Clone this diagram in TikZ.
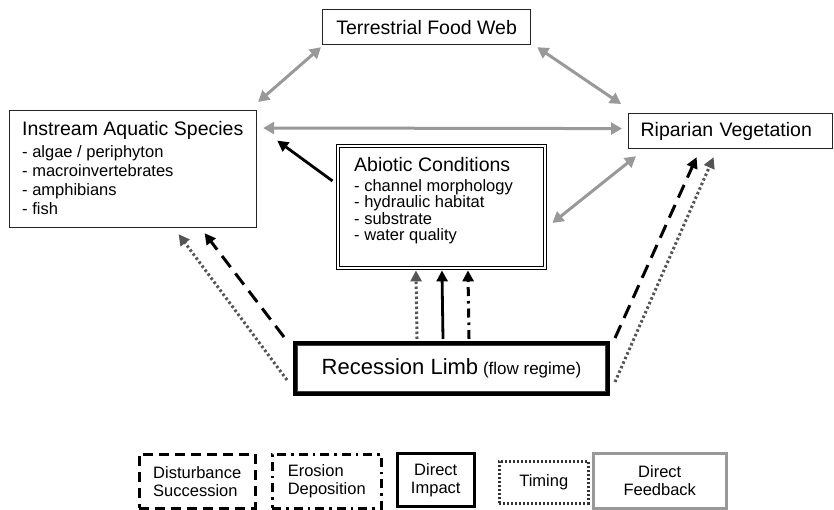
\documentclass[tikz,border=0pt]{standalone}
\usepackage{fontspec}
\setmainfont{Liberation Sans}
\usetikzlibrary{arrows.meta,calc}
\definecolor{fbgray}{HTML}{999999}
\definecolor{dotgray}{HTML}{555555}
\begin{document}
\begin{tikzpicture}[x=1pt,y=-1pt,
  box/.style={draw=black!85, line width=1.2pt, inner sep=0pt, anchor=north west},
  txt/.style={inner sep=0pt, anchor=north west, align=left},
  head/.style={font=\fontsize{19.5}{22}\selectfont},
  leg/.style={inner sep=0pt, anchor=north west, font=\fontsize{16.5}{18}\selectfont},
  tipA/.style={-{Triangle[length=11pt,width=11pt]}},
  fbarrow/.style={draw=fbgray, line width=3pt, {Triangle[length=11pt,width=12pt]}-{Triangle[length=11pt,width=12pt]}},
  impact/.style={draw=black, line width=2.8pt, tipA},
  dist/.style={draw=black, line width=3pt, dash pattern=on 14pt off 8pt, tipA},
  timing/.style={draw=dotgray, line width=3pt, dash pattern=on 2.5pt off 2.5pt, tipA},
  erosion/.style={draw=black, line width=3pt, dash pattern=on 9pt off 5pt on 2.5pt off 5pt, tipA}
]
\useasboundingbox (0,0) rectangle (834,510);

% main boxes
\node[box, head, minimum width=208pt, minimum height=35pt] (tfw) at (322,9) {Terrestrial Food Web};
\node[box, head, minimum width=204pt, minimum height=35pt, inner xsep=12pt, text width=180pt, align=left] (rip) at (628,113) {Riparian Vegetation};
\node[box, minimum width=247pt, minimum height=117pt] (isp) at (9,110) {};
\node[txt, font=\fontsize{16.5}{19}\selectfont] (ispt) at (22,121)
  {{\fontsize{19.5}{22}\selectfont Instream Aquatic Species}\\[3pt]
   - algae / periphyton\\ - macroinvertebrates\\ - amphibians\\ - fish};
\node[draw=black, line width=0.9pt, double, double distance=2pt, inner sep=0pt, anchor=north west,
      minimum width=207pt, minimum height=122pt] (abi) at (337.5,145.5) {};
\node[txt, font=\fontsize{16.5}{16.5}\selectfont] (abit) at (354,157.5)
  {{\fontsize{19.5}{22}\selectfont Abiotic Conditions}\\[3pt]
   - channel morphology\\ - hydraulic habitat\\ - substrate\\ - water quality};
\node[draw=black, line width=4pt, inner sep=0pt, anchor=north west,
      minimum width=313pt, minimum height=51pt] (rec) at (293,341)
  {{\fontsize{22}{26}\selectfont Recession Limb}\hspace{2pt} {\fontsize{17}{20}\selectfont (flow regime)}};
\draw[black!75, line width=1.1pt] ($(rec.north west)+(4.5,4.5)$) rectangle ($(rec.south east)+(-4.5,-4.5)$);

% feedback arrows
\draw[fbarrow] ($(tfw.south west)+(-1,2)$) -- ($(isp.north east)+(1,-8)$);
\draw[fbarrow] ($(tfw.south east)+(6,2)$) -- ($(rip.north west)+(-7,-9)$);
\draw[fbarrow] ($(isp.north east)+(6,18)$) -- ($(rip.west)+(-6,-2.5)$);
\draw[fbarrow] ($(abi.east)+(7,16)$) -- ($(rip.south west)+(8,7)$);

% abiotic -> instream
\draw[impact] ($(abi.west)+(-5,-26)$) -- ($(isp.east)+(20,-28.5)$);

% recession -> instream
\draw[dist] ($(rec.north west)+(-9,-4)$) -- ($(isp.south)+(71.5,5)$);
\draw[timing] ($(rec.west)+(-6,11.5)$) -- ($(isp.south)+(45.5,6)$);

% recession -> abiotic
\draw[timing] ($(rec.north)+(-34.5,-2)$) -- ($(abi.south)+(-25.5,2)$);
\draw[impact] ($(rec.north)+(-8.5,-2)$) -- ($(abi.south)+(0.5,2)$);
\draw[erosion] ($(rec.north)+(17.5,-2)$) -- ($(abi.south)+(26.5,2)$);

% recession -> riparian
\draw[dist] ($(rec.north east)+(5,-3)$) -- ($(rip.south)+(-34,8)$);
\draw[timing] ($(rec.east)+(5,13.5)$) -- ($(rip.south)+(-17,8)$);

% legend
\node[leg, draw=black, line width=2.5pt, dash pattern=on 10pt off 6pt, align=left,
      minimum width=116pt, minimum height=54pt] (ldis) at (138,453) {Disturbance\\Succession};
\node[leg, draw=black, line width=2.5pt, dash pattern=on 9pt off 5pt on 2.5pt off 5pt, align=left,
      minimum width=109pt, minimum height=54pt] (lero) at (271,453) {Erosion\\Deposition};
\node[leg, draw=black, line width=2.5pt, align=center,
      minimum width=77pt, minimum height=53pt] (limp) at (396,452) {Direct\\Impact};
\node[leg, draw=black!80, line width=2.5pt, dash pattern=on 2pt off 2pt, align=center,
      minimum width=89pt, minimum height=42pt] (ltim) at (498,460) {Timing};
\node[leg, draw=fbgray, line width=2.5pt, align=center,
      minimum width=133pt, minimum height=55pt] (lfb) at (592,452) {Direct\\Feedback};
\end{tikzpicture}
\end{document}
